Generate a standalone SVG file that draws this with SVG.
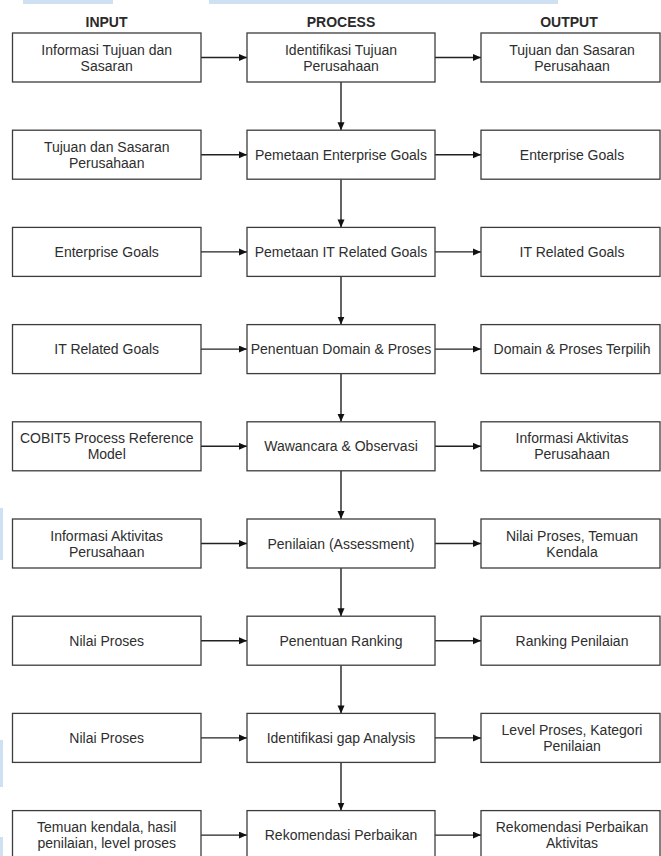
<svg xmlns="http://www.w3.org/2000/svg" width="661" height="856" viewBox="0 0 661 856">
<style>
.bx{fill:#fff;stroke:#3c3c3c;stroke-width:1.3}
.t{font-family:"Liberation Sans",Arial,sans-serif;font-size:14px;fill:#2e2e2e;text-anchor:middle}
.h{font-family:"Liberation Sans",Arial,sans-serif;font-size:14px;font-weight:bold;fill:#2a2a2a;text-anchor:middle}
.c{stroke:#222;stroke-width:1.4;fill:none;marker-end:url(#ah)}
.band{fill:#cfe0f3}
</style>
<defs>
<marker id="ah" markerUnits="userSpaceOnUse" markerWidth="9" markerHeight="8" refX="8" refY="3.5" orient="auto">
<path d="M0,0 L8,3.5 L0,7 z" fill="#111"/>
</marker>
</defs>
<rect width="661" height="856" fill="#fff"/>
<g id="artifacts">
<rect class="band" x="23" y="0" width="90" height="4"/>
<rect class="band" x="209" y="0" width="349" height="4"/>
<rect class="band" x="0" y="508" width="3" height="52"/>
<rect class="band" x="0" y="740" width="3" height="47"/>
<rect class="band" x="0" y="837" width="3" height="19"/>
</g>
<g id="headers">
<text class="h" x="106.5" y="27">INPUT</text>
<text class="h" x="341" y="27">PROCESS</text>
<text class="h" x="569" y="27">OUTPUT</text>
</g>
<g id="connectors">
<path class="c" d="M201,57.5 H247"/><path class="c" d="M435,57.5 H481"/><path class="c" d="M341,82 V130.2"/>
<path class="c" d="M201,154.7 H247"/><path class="c" d="M435,154.7 H481"/><path class="c" d="M341,179.2 V227.4"/>
<path class="c" d="M201,251.9 H247"/><path class="c" d="M435,251.9 H481"/><path class="c" d="M341,276.4 V324.6"/>
<path class="c" d="M201,349.1 H247"/><path class="c" d="M435,349.1 H481"/><path class="c" d="M341,373.6 V421.8"/>
<path class="c" d="M201,446.3 H247"/><path class="c" d="M435,446.3 H481"/><path class="c" d="M341,470.8 V519"/>
<path class="c" d="M201,543.5 H247"/><path class="c" d="M435,543.5 H481"/><path class="c" d="M341,568 V616.2"/>
<path class="c" d="M201,640.7 H247"/><path class="c" d="M435,640.7 H481"/><path class="c" d="M341,665.2 V713.4"/>
<path class="c" d="M201,737.9 H247"/><path class="c" d="M435,737.9 H481"/><path class="c" d="M341,762.4 V810.6"/>
<path class="c" d="M201,835.1 H247"/><path class="c" d="M435,835.1 H481"/>
</g>
<!-- Row 1 -->
<g id="in1"><rect class="bx" x="12.5" y="33" width="188.5" height="49"/><text class="t" x="106.7" y="54.5">Informasi Tujuan dan</text><text class="t" x="106.7" y="70.5">Sasaran</text></g>
<g id="p1"><rect class="bx" x="247" y="33" width="188" height="49"/><text class="t" x="341" y="54.5">Identifikasi Tujuan</text><text class="t" x="341" y="70.5">Perusahaan</text></g>
<g id="out1"><rect class="bx" x="481" y="33" width="179" height="49"/><text class="t" x="572" y="54.5">Tujuan dan Sasaran</text><text class="t" x="572" y="70.5">Perusahaan</text></g>
<!-- Row 2 -->
<g id="in2"><rect class="bx" x="12.5" y="130.2" width="188.5" height="49"/><text class="t" x="106.7" y="151.7">Tujuan dan Sasaran</text><text class="t" x="106.7" y="167.7">Perusahaan</text></g>
<g id="p2"><rect class="bx" x="247" y="130.2" width="188" height="49"/><text class="t" x="341" y="159.7">Pemetaan Enterprise Goals</text></g>
<g id="out2"><rect class="bx" x="481" y="130.2" width="179" height="49"/><text class="t" x="572" y="159.7">Enterprise Goals</text></g>
<!-- Row 3 -->
<g id="in3"><rect class="bx" x="12.5" y="227.4" width="188.5" height="49"/><text class="t" x="106.7" y="256.9">Enterprise Goals</text></g>
<g id="p3"><rect class="bx" x="247" y="227.4" width="188" height="49"/><text class="t" x="341" y="256.9">Pemetaan IT Related Goals</text></g>
<g id="out3"><rect class="bx" x="481" y="227.4" width="179" height="49"/><text class="t" x="572" y="256.9">IT Related Goals</text></g>
<!-- Row 4 -->
<g id="in4"><rect class="bx" x="12.5" y="324.6" width="188.5" height="49"/><text class="t" x="106.7" y="354.1">IT Related Goals</text></g>
<g id="p4"><rect class="bx" x="247" y="324.6" width="188" height="49"/><text class="t" x="341" y="354.1">Penentuan Domain &amp; Proses</text></g>
<g id="out4"><rect class="bx" x="481" y="324.6" width="179" height="49"/><text class="t" x="572" y="354.1">Domain &amp; Proses Terpilih</text></g>
<!-- Row 5 -->
<g id="in5"><rect class="bx" x="12.5" y="421.8" width="188.5" height="49"/><text class="t" x="106.7" y="443.3">COBIT5 Process Reference</text><text class="t" x="106.7" y="459.3">Model</text></g>
<g id="p5"><rect class="bx" x="247" y="421.8" width="188" height="49"/><text class="t" x="341" y="451.3">Wawancara &amp; Observasi</text></g>
<g id="out5"><rect class="bx" x="481" y="421.8" width="179" height="49"/><text class="t" x="572" y="443.3">Informasi Aktivitas</text><text class="t" x="572" y="459.3">Perusahaan</text></g>
<!-- Row 6 -->
<g id="in6"><rect class="bx" x="12.5" y="519" width="188.5" height="49"/><text class="t" x="106.7" y="540.5">Informasi Aktivitas</text><text class="t" x="106.7" y="556.5">Perusahaan</text></g>
<g id="p6"><rect class="bx" x="247" y="519" width="188" height="49"/><text class="t" x="341" y="548.5">Penilaian (Assessment)</text></g>
<g id="out6"><rect class="bx" x="481" y="519" width="179" height="49"/><text class="t" x="572" y="540.5">Nilai Proses, Temuan</text><text class="t" x="572" y="556.5">Kendala</text></g>
<!-- Row 7 -->
<g id="in7"><rect class="bx" x="12.5" y="616.2" width="188.5" height="49"/><text class="t" x="106.7" y="645.7">Nilai Proses</text></g>
<g id="p7"><rect class="bx" x="247" y="616.2" width="188" height="49"/><text class="t" x="341" y="645.7">Penentuan Ranking</text></g>
<g id="out7"><rect class="bx" x="481" y="616.2" width="179" height="49"/><text class="t" x="572" y="645.7">Ranking Penilaian</text></g>
<!-- Row 8 -->
<g id="in8"><rect class="bx" x="12.5" y="713.4" width="188.5" height="49"/><text class="t" x="106.7" y="742.9">Nilai Proses</text></g>
<g id="p8"><rect class="bx" x="247" y="713.4" width="188" height="49"/><text class="t" x="341" y="742.9">Identifikasi gap Analysis</text></g>
<g id="out8"><rect class="bx" x="481" y="713.4" width="179" height="49"/><text class="t" x="572" y="734.9">Level Proses, Kategori</text><text class="t" x="572" y="750.9">Penilaian</text></g>
<!-- Row 9 -->
<g id="in9"><rect class="bx" x="12.5" y="810.6" width="188.5" height="49"/><text class="t" x="106.7" y="832.1">Temuan kendala, hasil</text><text class="t" x="106.7" y="848.1">penilaian, level proses</text></g>
<g id="p9"><rect class="bx" x="247" y="810.6" width="188" height="49"/><text class="t" x="341" y="840.1">Rekomendasi Perbaikan</text></g>
<g id="out9"><rect class="bx" x="481" y="810.6" width="179" height="49"/><text class="t" x="572" y="832.1">Rekomendasi Perbaikan</text><text class="t" x="572" y="848.1">Aktivitas</text></g>
</svg>
